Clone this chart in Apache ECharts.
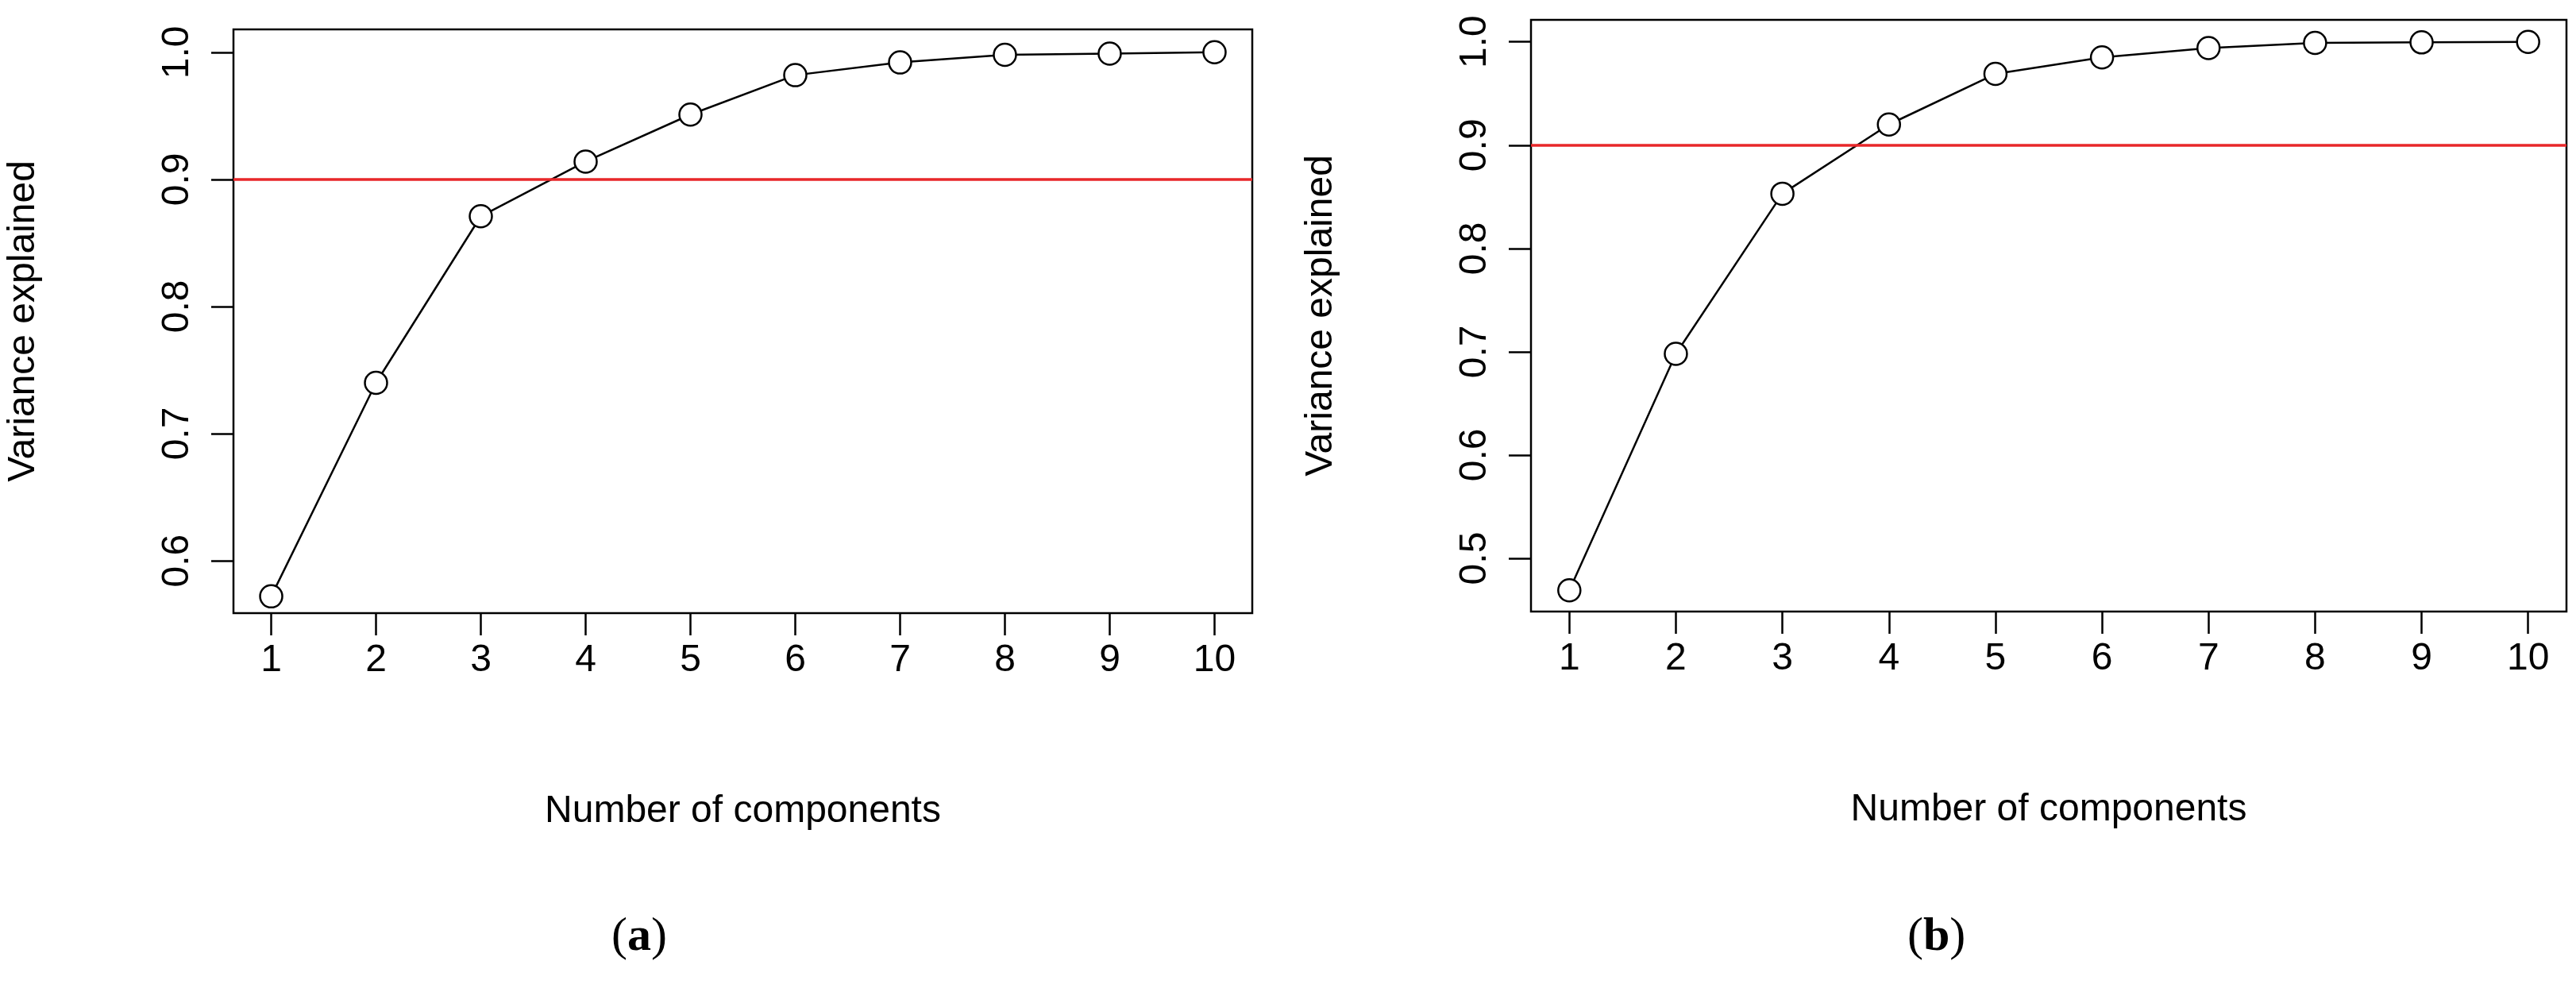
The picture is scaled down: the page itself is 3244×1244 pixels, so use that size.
<!DOCTYPE html>
<html><head><meta charset="utf-8">
<script src="https://cdn.jsdelivr.net/npm/echarts@6/dist/echarts.min.js"></script>
<style>html,body{margin:0;padding:0;background:#fff}#c{width:3244px;height:1244px}</style>
</head><body><div id="c"></div>
<script>
const components = [1,2,3,4,5,6,7,8,9,10];
const varA = [0.572,0.740,0.871,0.914,0.951,0.982,0.992,0.998,0.999,1.000];
const varB = [0.469,0.698,0.853,0.920,0.969,0.985,0.994,0.999,0.9995,1.000];
const yTicksA = [0.6,0.7,0.8,0.9,1.0];
const yTicksB = [0.5,0.6,0.7,0.8,0.9,1.0];
const threshold = 0.9;

const F = 'Liberation Sans Narrow, Liberation Sans, Arial, sans-serif';
function xAx(i){return {type:'value',gridIndex:i,min:0.64,max:10.36,interval:1,
  name:'Number of components',nameLocation:'middle',nameGap:226,
  nameTextStyle:{fontFamily:F,fontSize:48,color:'#000'},
  axisLine:{show:false},splitLine:{show:false},
  axisTick:{show:true,length:28,lineStyle:{color:'#000',width:2.5},customValues:components},
  axisLabel:{fontFamily:F,fontSize:48,color:'#000',margin:36,customValues:components,formatter:v=>String(v)}};}
function yAx(i,min,max,ticks){return {type:'value',gridIndex:i,min:min,max:max,
  name:'Variance explained',nameLocation:'middle',nameGap:240,
  nameTextStyle:{fontFamily:F,fontSize:48,color:'#000'},
  axisLine:{show:false},splitLine:{show:false},
  axisTick:{show:true,length:28,lineStyle:{color:'#000',width:2.5},customValues:ticks},
  axisLabel:{fontFamily:F,fontSize:48,color:'#000',rotate:90,margin:46,customValues:ticks,formatter:v=>v.toFixed(1)}};}
function ser(i,vals){return {type:'line',xAxisIndex:i,yAxisIndex:i,
  data:components.map((c,k)=>[c,vals[k]]),
  symbol:'circle',symbolSize:28,showSymbol:true,
  lineStyle:{color:'#000',width:2.5},
  itemStyle:{color:'#fff',borderColor:'#000',borderWidth:2.5},
  markLine:{silent:true,symbol:'none',label:{show:false},
    lineStyle:{color:'#e8272a',width:3.5,type:'solid'},data:[{yAxis:threshold}]},
  animation:false};}
const chart = echarts.init(document.getElementById('c'));
const cap = {p:{fontFamily:'Liberation Serif, serif',fontSize:60,fill:'#000'},b:{fontFamily:'Liberation Serif, serif',fontSize:60,fontWeight:'bold',fill:'#000'}};
chart.setOption({
  animation:false,
  grid:[{left:294,top:37,width:1283,height:735,show:true,borderColor:'#000',borderWidth:2.5,backgroundColor:'transparent'},
        {left:1928,top:25,width:1304,height:745,show:true,borderColor:'#000',borderWidth:2.5,backgroundColor:'transparent'}],
  xAxis:[xAx(0),xAx(1)],
  yAxis:[yAx(0,0.5588,1.018,yTicksA),yAx(1,0.4485,1.0213,yTicksB)],
  series:[ser(0,varA),ser(1,varB)],
  graphic:[
    {type:'text',left:770,top:1150,style:{rich:cap,text:'{p|(}{b|a}{p|)}'}},
    {type:'text',left:2402,top:1150,style:{rich:cap,text:'{p|(}{b|b}{p|)}'}}
  ]
});
</script></body></html>
